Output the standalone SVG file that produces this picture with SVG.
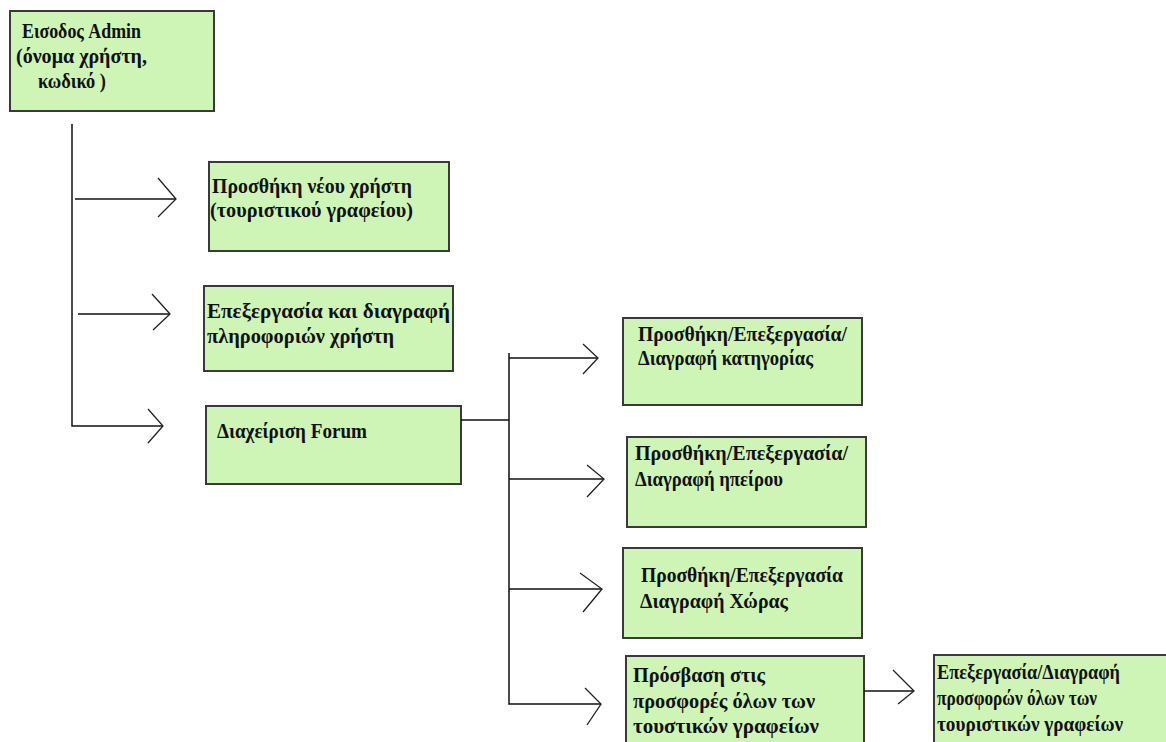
<svg xmlns="http://www.w3.org/2000/svg" width="1166" height="742" viewBox="0 0 1166 742">
<defs>
<style>
.box{fill:#cff5b6;stroke:#3a3a3a;stroke-width:2}
.t{font-family:'Liberation Serif','DejaVu Serif',serif;font-weight:700;font-size:21px;fill:#111}
.ln{stroke:#111;stroke-width:1.5;fill:none}
.hd{stroke:#222;stroke-width:1.3;fill:none}
</style>
</defs>
<rect width="1166" height="742" fill="#ffffff"/>
<g id="n-admin">
<rect class="box" x="10" y="11" width="204" height="100"/>
<text class="t" x="22" y="38" textLength="119" lengthAdjust="spacingAndGlyphs">Εισοδος Admin</text>
<text class="t" x="16" y="63" textLength="131" lengthAdjust="spacingAndGlyphs">(όνομα χρήστη,</text>
<text class="t" x="38" y="88" textLength="68" lengthAdjust="spacingAndGlyphs">κωδικό )</text>
</g>
<g id="n-newuser">
<rect class="box" x="209" y="162" width="240" height="89"/>
<text class="t" x="212" y="193" textLength="200" lengthAdjust="spacingAndGlyphs">Προσθήκη νέου χρήστη</text>
<text class="t" x="210" y="217" textLength="203" lengthAdjust="spacingAndGlyphs">(τουριστικού γραφείου)</text>
</g>
<g id="n-edituser">
<rect class="box" x="204" y="286" width="249" height="85"/>
<text class="t" x="207" y="318" textLength="243" lengthAdjust="spacingAndGlyphs">Επεξεργασία και διαγραφή</text>
<text class="t" x="207" y="343" textLength="187" lengthAdjust="spacingAndGlyphs">πληροφοριών χρήστη</text>
</g>
<g id="n-forum">
<rect class="box" x="206" y="406" width="255" height="78"/>
<text class="t" x="217" y="438" textLength="150" lengthAdjust="spacingAndGlyphs">Διαχείριση Forum</text>
</g>
<g id="n-category">
<rect class="box" x="623" y="318" width="239" height="87"/>
<text class="t" x="638" y="341" textLength="209" lengthAdjust="spacingAndGlyphs">Προσθήκη/Επεξεργασία/</text>
<text class="t" x="638" y="365" textLength="175" lengthAdjust="spacingAndGlyphs">Διαγραφή κατηγορίας</text>
</g>
<g id="n-continent">
<rect class="box" x="627" y="437" width="239" height="90"/>
<text class="t" x="635" y="460" textLength="213" lengthAdjust="spacingAndGlyphs">Προσθήκη/Επεξεργασία/</text>
<text class="t" x="635" y="486" textLength="148" lengthAdjust="spacingAndGlyphs">Διαγραφή ηπείρου</text>
</g>
<g id="n-country">
<rect class="box" x="623" y="548" width="239" height="90"/>
<text class="t" x="641" y="582" textLength="202" lengthAdjust="spacingAndGlyphs">Προσθήκη/Επεξεργασία</text>
<text class="t" x="640" y="608" textLength="148" lengthAdjust="spacingAndGlyphs">Διαγραφή Χώρας</text>
</g>
<g id="n-offers">
<rect class="box" x="626" y="656" width="238" height="100"/>
<text class="t" x="633" y="682" textLength="132" lengthAdjust="spacingAndGlyphs">Πρόσβαση στις</text>
<text class="t" x="633" y="708" textLength="182" lengthAdjust="spacingAndGlyphs">προσφορές όλων των</text>
<text class="t" x="633" y="733" textLength="186" lengthAdjust="spacingAndGlyphs">τουστικών γραφείων</text>
</g>
<g id="n-editoffers">
<rect class="box" x="934" y="655" width="240" height="100"/>
<text class="t" x="937" y="679" textLength="183" lengthAdjust="spacingAndGlyphs">Επεξεργασία/Διαγραφή</text>
<text class="t" x="937" y="705" textLength="160" lengthAdjust="spacingAndGlyphs">προσφορών όλων των</text>
<text class="t" x="937" y="731" textLength="186" lengthAdjust="spacingAndGlyphs">τουριστικών γραφείων</text>
</g>
<g id="connectors">
<path class="ln" d="M72,124 V426 H163"/>
<path class="ln" d="M75,199 H176"/>
<path class="ln" d="M78,314 H170"/>
<path class="hd" d="M158,178 L176,199 L158,217"/>
<path class="hd" d="M152,294 L170,314 L153,330"/>
<path class="hd" d="M148,409 L163,426 L148,443"/>
<path class="ln" d="M461,420 H509"/>
<path class="ln" d="M509,353 V704 H601"/>
<path class="ln" d="M509,358 H598"/>
<path class="ln" d="M509,479 H604"/>
<path class="ln" d="M509,589 H602"/>
<path class="hd" d="M583,344 L598,358 L583,374"/>
<path class="hd" d="M587,465 L604,479 L587,497"/>
<path class="hd" d="M580,573 L602,589 L583,612"/>
<path class="hd" d="M585,688 L601,704 L587,725"/>
<path class="ln" d="M864,691 H914"/>
<path class="hd" d="M893,670 L914,691 L898,704"/>
</g>
</svg>
